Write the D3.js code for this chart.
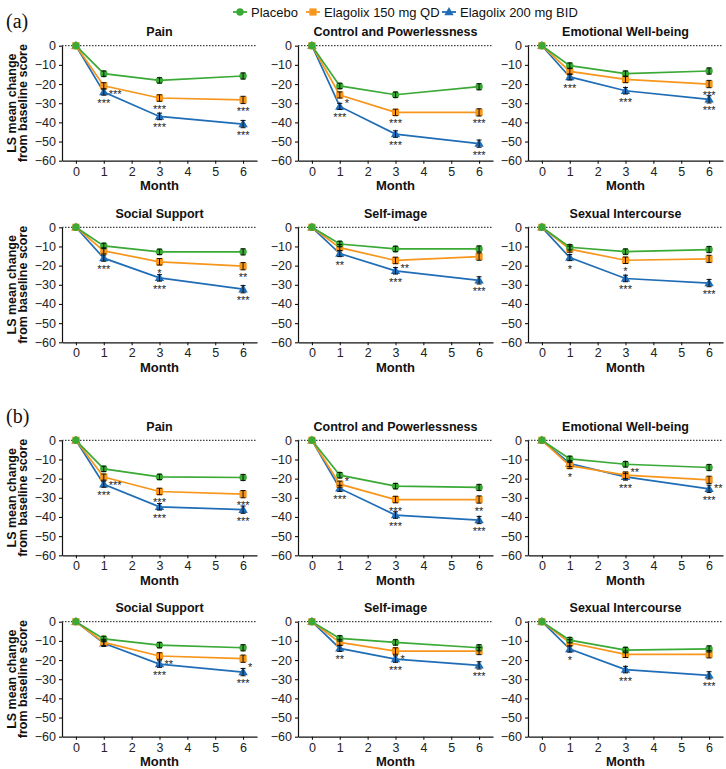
<!DOCTYPE html>
<html>
<head>
<meta charset="utf-8">
<script src="https://cdn.jsdelivr.net/npm/d3@7"></script>
<style>
  body { margin: 0; background: #fff; }
  svg { display: block; font-family: "Liberation Sans", Arial, sans-serif; }
</style>
</head>
<body>
<svg id="chart" width="726" height="769"></svg>
<script>
// ---------------- DATA ----------------
const months = [0, 1, 3, 6];
const monthTicks = [0, 1, 2, 3, 4, 5, 6];
const yTicks = [0, -10, -20, -30, -40, -50, -60];
const groupLabels = ["(a)", "(b)"];
const panelTitles = ["Pain", "Control and Powerlessness", "Emotional Well-being",
                     "Social Support", "Self-image", "Sexual Intercourse"];
const seriesNames = ["Placebo", "Elagolix 150 mg QD", "Elagolix 200 mg BID"];
const seriesColors = ["#3aa935", "#f7961c", "#1f6db6"];
const yLabelLines = ["LS mean change", "from baseline score"];
const xLabel = "Month";

// (a) values per domain, months 0,1,3,6
const placeboA = [
  [0, -14.6, -18.1, -15.8],
  [0, -21.0, -25.6, -21.4],
  [0, -10.4, -14.6, -13.2],
  [0, -9.7, -12.8, -12.8],
  [0, -8.7, -11.3, -11.3],
  [0, -10.4, -12.7, -11.6]
];
const qdA = [
  [0, -20.9, -27.3, -28.3],
  [0, -25.7, -34.8, -34.8],
  [0, -13.4, -17.6, -20.0],
  [0, -12.3, -18.0, -20.3],
  [0, -10.6, -17.3, -15.3],
  [0, -11.4, -17.2, -16.5]
];
const bidA = [
  [0, -24.2, -36.9, -40.9],
  [0, -31.7, -46.1, -51.1],
  [0, -16.3, -23.5, -28.0],
  [0, -16.1, -26.4, -32.3],
  [0, -13.7, -22.7, -27.7],
  [0, -15.8, -26.7, -29.1]
];
// (b)
const placeboB = [
  [0, -14.9, -19.1, -19.4],
  [0, -18.2, -23.9, -24.6],
  [0, -9.7, -12.5, -14.2],
  [0, -9.0, -12.2, -13.6],
  [0, -8.7, -10.8, -13.6],
  [0, -9.6, -14.8, -14.2]
];
const qdB = [
  [0, -19.2, -26.7, -28.1],
  [0, -22.9, -30.9, -30.9],
  [0, -13.2, -18.2, -20.6],
  [0, -10.8, -17.9, -19.3],
  [0, -10.8, -15.3, -15.3],
  [0, -11.0, -17.0, -17.0]
];
const bidB = [
  [0, -22.9, -34.7, -36.2],
  [0, -25.1, -39.0, -41.6],
  [0, -12.1, -19.1, -25.3],
  [0, -11.3, -22.1, -26.3],
  [0, -13.9, -19.5, -22.8],
  [0, -14.3, -25.0, -28.0]
];
// standard errors (approx.) per series, months 0,1,3,6
const placeboSE = [0, 1.4, 1.4, 1.6];
const qdSE = [0, 1.6, 1.7, 1.9];
const bidSE = [0, 1.6, 1.7, 1.9];

// significance marks: [panel 0-11, month index, series index, text, placement]
const sigMarks = [
  [0, 1, 1, "***", "right"], [0, 1, 2, "***", "below"], [0, 2, 1, "***", "below"], [0, 2, 2, "***", "below"], [0, 3, 1, "***", "below"], [0, 3, 2, "***", "below"],
  [1, 1, 1, "*", "right"], [1, 1, 2, "***", "below"], [1, 2, 1, "***", "below"], [1, 2, 2, "***", "below"], [1, 3, 1, "***", "below"], [1, 3, 2, "***", "below"],
  [2, 1, 2, "***", "below"], [2, 2, 2, "***", "below"], [2, 3, 1, "***", "below"], [2, 3, 2, "***", "below"],
  [3, 1, 2, "***", "below"], [3, 2, 1, "*", "below"], [3, 2, 2, "***", "below"], [3, 3, 1, "**", "below"], [3, 3, 2, "***", "below"],
  [4, 1, 2, "**", "below"], [4, 2, 1, "**", "right"], [4, 2, 2, "***", "below"], [4, 3, 2, "***", "below"],
  [5, 1, 2, "*", "below"], [5, 2, 1, "*", "below"], [5, 2, 2, "***", "below"], [5, 3, 2, "***", "below"],
  [6, 1, 1, "***", "right"], [6, 1, 2, "***", "below"], [6, 2, 1, "***", "below"], [6, 2, 2, "***", "below"], [6, 3, 1, "***", "below"], [6, 3, 2, "***", "below"],
  [7, 1, 1, "*", "upright"], [7, 1, 2, "***", "below"], [7, 2, 1, "***", "below"], [7, 2, 2, "***", "below"], [7, 3, 1, "**", "below"], [7, 3, 2, "***", "below"],
  [8, 1, 2, "*", "below"], [8, 2, 1, "**", "upright"], [8, 2, 2, "***", "below"], [8, 3, 1, "**", "right"], [8, 3, 2, "***", "below"],
  [9, 2, 1, "**", "right"], [9, 2, 2, "***", "below"], [9, 3, 1, "*", "right"], [9, 3, 2, "***", "below"],
  [10, 1, 2, "**", "below"], [10, 2, 1, "*", "right"], [10, 2, 2, "***", "below"], [10, 3, 2, "***", "below"],
  [11, 1, 2, "*", "below"], [11, 2, 2, "***", "below"], [11, 3, 2, "***", "below"]
];

// ---------------- LAYOUT ----------------
const svg = d3.select("#chart");
const colX = [62, 298, 528];
const rowTop = [45.7, 227.3, 440.3, 621.7];
const plotW = 195, plotH = 115;
const seValues = [placeboSE, qdSE, bidSE];
const groupData = [[placeboA, qdA, bidA], [placeboB, qdB, bidB]];

// group labels
groupLabels.forEach((g, gi) => {
  svg.append("text")
    .attr("x", 6).attr("y", gi === 0 ? 28 : 423)
    .attr("font-family", "'Liberation Serif', 'Times New Roman', serif")
    .attr("font-size", 20).attr("fill", "#111")
    .text(g);
});

function drawMarker(g, si, cx, cy) {
  if (si === 0) {
    g.append("circle").attr("cx", cx).attr("cy", cy).attr("r", 3.7).attr("fill", seriesColors[0]);
  } else if (si === 1) {
    g.append("rect").attr("x", cx - 3.6).attr("y", cy - 3.6).attr("width", 7.2).attr("height", 7.2)
      .attr("fill", seriesColors[1]);
  } else {
    g.append("path").attr("d", d3.symbol().type(d3.symbolTriangle).size(38)())
      .attr("transform", `translate(${cx},${cy + 0.5})`).attr("fill", seriesColors[2]);
  }
}

// legend
const legendX = [240, 313, 449];
const legend = svg.append("g");
seriesNames.forEach((name, i) => {
  const lx = legendX[i], ly = 12;
  legend.append("line").attr("x1", lx - 7).attr("x2", lx + 7).attr("y1", ly).attr("y2", ly)
    .attr("stroke", seriesColors[i]).attr("stroke-width", 1.8);
  drawMarker(legend, i, lx, ly);
  legend.append("text").attr("x", lx + 11).attr("y", ly).attr("dy", "0.35em")
    .attr("font-size", 13).attr("fill", "#111").text(name);
});

// panels
for (let gi = 0; gi < 2; gi++) {
  for (let di = 0; di < 6; di++) {
    const panel = gi * 6 + di;
    const row = gi * 2 + Math.floor(di / 3);
    const col = di % 3;
    const x0 = colX[col], y0 = rowTop[row];
    const x = d3.scaleLinear().domain([-0.5, 6.5]).range([x0, x0 + plotW]);
    const y = d3.scaleLinear().domain([0, -60]).range([y0, y0 + plotH]);
    const g = svg.append("g");

    // title
    g.append("text").attr("x", x(3)).attr("y", y0 - 14).attr("dy", "0.35em")
      .attr("text-anchor", "middle").attr("font-weight", "bold").attr("font-size", 12.5)
      .attr("fill", "#111").text(panelTitles[di]);

    // axes
    const ya = g.append("g").attr("transform", `translate(${x0},0)`)
      .call(d3.axisLeft(y).tickValues(yTicks).tickFormat(d3.format("d"))
        .tickSize(3).tickSizeOuter(0).tickPadding(3));
    const xa = g.append("g").attr("transform", `translate(0,${y0 + plotH})`)
      .call(d3.axisBottom(x).tickValues(monthTicks).tickFormat(d3.format("d"))
        .tickSize(3).tickSizeOuter(0).tickPadding(3));
    [ya, xa].forEach(a => {
      a.select(".domain").attr("stroke", "#111").attr("stroke-width", 1.2);
      a.selectAll(".tick line").attr("stroke", "#111").attr("stroke-width", 1.1);
      a.selectAll(".tick text").attr("font-size", 12.5).attr("fill", "#222")
        .attr("font-family", "'Liberation Sans', Arial, sans-serif");
    });

    // x label
    g.append("text").attr("x", x(3)).attr("y", y0 + plotH + 25).attr("dy", "0.35em")
      .attr("text-anchor", "middle").attr("font-weight", "bold").attr("font-size", 13)
      .attr("fill", "#111").text(xLabel);

    // y label (first column only)
    if (col === 0) {
      const cy = y0 + plotH / 2;
      yLabelLines.forEach((t, li) => {
        g.append("text")
          .attr("transform", `translate(${12 + li * 10.5},${cy}) rotate(-90)`)
          .attr("dy", "0.35em").attr("text-anchor", "middle")
          .attr("font-weight", "bold").attr("font-size", 12.5).attr("fill", "#111").text(t);
      });
    }

    // zero reference line
    g.append("line").attr("x1", x0).attr("x2", x0 + plotW).attr("y1", y(0)).attr("y2", y(0))
      .attr("stroke", "#111").attr("stroke-width", 1).attr("stroke-dasharray", "1.5,1.5");

    const series = groupData[gi].map(arr => arr[di]);
    const order = [2, 1, 0];
    const line = d3.line().x((d, i) => x(months[i])).y(d => y(d));
    order.forEach(si => {
      g.append("path").datum(series[si]).attr("d", line).attr("fill", "none")
        .attr("stroke", seriesColors[si]).attr("stroke-width", 1.7);
    });
    order.forEach(si => {
      series[si].forEach((v, i) => drawMarker(g, si, x(months[i]), y(v)));
    });
    order.forEach(si => {
      series[si].forEach((v, i) => {
        const se = seValues[si][i];
        if (!se) return;
        const cx = x(months[i]);
        const yt = y(v + se), yb = y(v - se);
        g.append("line").attr("x1", cx).attr("x2", cx).attr("y1", yt).attr("y2", yb)
          .attr("stroke", "#111").attr("stroke-width", 1);
        [yt, yb].forEach(yy => g.append("line").attr("x1", cx - 2.5).attr("x2", cx + 2.5)
          .attr("y1", yy).attr("y2", yy).attr("stroke", "#111").attr("stroke-width", 1));
      });
    });

    // significance marks
    sigMarks.filter(s => s[0] === panel).forEach(s => {
      const [, mi, si, txt, place] = s;
      const cx = x(months[mi]);
      let anchorVal = series[si][mi];
      if (si === 2) anchorVal = Math.min(series[1][mi], series[2][mi]);
      const py = y(anchorVal);
      let tx = cx, ty = py + 15, anchor = "middle";
      if (place === "right") { tx = cx + 5; ty = py + 12; anchor = "start"; }
      if (place === "upright") { tx = cx + 5; ty = py + 1; anchor = "start"; }
      g.append("text").attr("x", tx).attr("y", ty).attr("text-anchor", anchor)
        .attr("font-size", 11).attr("fill", "#222").text(txt);
    });
  }
}
</script>
</body>
</html>
